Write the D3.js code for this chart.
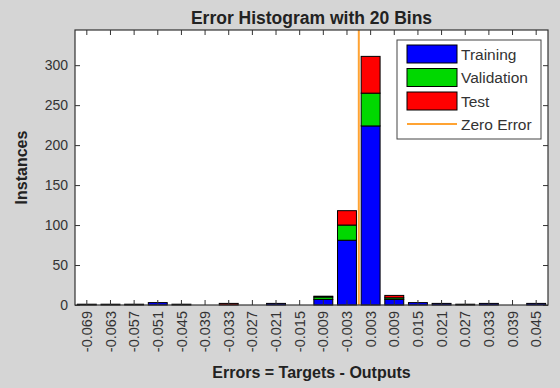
<!DOCTYPE html>
<html>
<head>
<meta charset="utf-8">
<script src="https://cdn.jsdelivr.net/npm/d3@7"></script>
<style>
    body { margin: 0; background: #d5d5d5; }
    svg { display: block; font-family: "Liberation Sans", Arial, sans-serif; }
</style>
</head>
<body>
<div id="hist"></div>
<script>
// bin centres (tick labels) and counts per data split
var binLabels = ["-0.069", "-0.063", "-0.057", "-0.051", "-0.045", "-0.039", "-0.033", "-0.027", "-0.021", "-0.015",
                 "-0.009", "-0.003", "0.003", "0.009", "0.015", "0.021", "0.027", "0.033", "0.039", "0.045"];
var training   = [1, 1, 1, 3, 1, 0, 0, 0, 2, 0, 7, 81, 224, 7, 3, 2, 1, 2, 0, 2];
var validation = [0, 0, 0, 0, 0, 0, 0, 0, 0, 0, 3, 19, 41, 2, 0, 0, 0, 0, 0, 0];
var test       = [0, 0, 0, 0, 0, 0, 2, 0, 0, 0, 1, 18, 46, 3, 0, 0, 0, 0, 0, 0];
var yTicks = [0, 50, 100, 150, 200, 250, 300];
var seriesNames = ["Training", "Validation", "Test"];
var zeroError = 0;

function init() {
    var W = 560, H = 388;
    var margin = {top: 30, right: 12, bottom: 83, left: 75};
    var w = W - margin.left - margin.right;
    var h = H - margin.top - margin.bottom;

    var dataset = binLabels.map(function(b, i) {
        return {bin: b, Training: training[i], Validation: validation[i], Test: test[i]};
    });

    var svg = d3.select("#hist").append("svg")
        .attr("width", W)
        .attr("height", H);

    var g = svg.append("g")
        .attr("transform", "translate(" + margin.left + "," + margin.top + ")");

    g.append("rect")
        .attr("width", w)
        .attr("height", h)
        .attr("fill", "#fff");

    var color = d3.scaleOrdinal()
        .domain(seriesNames)
        .range(["#0000ff", "#00d800", "#ff0000"]);

    var xScale = d3.scaleBand()
        .domain(binLabels)
        .range([0, w])
        .paddingInner(0.2)
        .paddingOuter(0.1);

    // continuous scale for the zero error line
    var step = 0.006;
    var xVal = d3.scaleLinear()
        .domain([+binLabels[0] - step / 2, +binLabels[binLabels.length - 1] + step / 2])
        .range([0, w]);

    var yScale = d3.scaleLinear()
        .domain([0, 344])
        .range([h, 0]);

    var series = d3.stack().keys(seriesNames)(dataset);

    g.selectAll("g.series")
        .data(series)
        .enter().append("g")
        .attr("class", "series")
        .attr("fill", function(d) { return color(d.key); })
        .selectAll("rect")
        .data(function(d) { return d.filter(function(s) { return s[1] - s[0] > 0; }); })
        .enter().append("rect")
        .attr("x", function(d) { return xScale(d.data.bin); })
        .attr("y", function(d) { return yScale(d[1]); })
        .attr("width", xScale.bandwidth())
        .attr("height", function(d) { return yScale(d[0]) - yScale(d[1]); })
        .attr("stroke", "#000")
        .attr("stroke-width", 1);

    // zero error line
    g.append("line")
        .attr("x1", xVal(zeroError))
        .attr("x2", xVal(zeroError))
        .attr("y1", 0)
        .attr("y2", h)
        .attr("stroke", "#ffa333")
        .attr("stroke-width", 2);

    // axes, ticks pointing inward like matlab
    var tickLen = 5;
    var xAxis = g.append("g")
        .attr("transform", "translate(0," + h + ")")
        .call(d3.axisBottom(xScale).tickSizeInner(-tickLen).tickSizeOuter(0).tickPadding(6));
    xAxis.selectAll("text")
        .attr("transform", "rotate(-90)")
        .attr("x", -6)
        .attr("y", 0)
        .attr("dy", "0.35em")
        .style("text-anchor", "end")
        .style("font-size", "14.5px")
        .style("fill", "#333");

    g.append("g")
        .call(d3.axisTop(xScale).tickSizeInner(-tickLen).tickSizeOuter(0).tickFormat(""));

    var yAxis = g.append("g")
        .call(d3.axisLeft(yScale).tickValues(yTicks).tickSizeInner(-tickLen).tickSizeOuter(0).tickPadding(7));
    yAxis.selectAll("text")
        .style("font-size", "14px")
        .style("fill", "#333");

    g.append("g")
        .attr("transform", "translate(" + w + ",0)")
        .call(d3.axisRight(yScale).tickValues(yTicks).tickSizeInner(-tickLen).tickSizeOuter(0).tickFormat(""));

    g.selectAll(".domain").remove();
    g.selectAll(".tick line").attr("stroke", "#333");

    g.append("rect")
        .attr("width", w)
        .attr("height", h)
        .attr("fill", "none")
        .attr("stroke", "#333")
        .attr("stroke-width", 1.2);

    // legend
    var lg = g.append("g")
        .attr("transform", "translate(" + (w - 151) + ",10)");
    lg.append("rect")
        .attr("width", 144)
        .attr("height", 99)
        .attr("fill", "#fff")
        .attr("stroke", "#444");
    seriesNames.forEach(function(name, i) {
        var yy = 5 + i * 23.5;
        lg.append("rect")
            .attr("x", 10)
            .attr("y", yy)
            .attr("width", 50)
            .attr("height", 18)
            .attr("fill", color(name))
            .attr("stroke", "#000");
        lg.append("text")
            .attr("x", 64)
            .attr("y", yy + 14.5)
            .style("font-size", "15.5px")
            .style("fill", "#333")
            .text(name);
    });
    lg.append("line")
        .attr("x1", 10).attr("x2", 60)
        .attr("y1", 84).attr("y2", 84)
        .attr("stroke", "#ffa333")
        .attr("stroke-width", 2);
    lg.append("text")
        .attr("x", 64)
        .attr("y", 89.5)
        .style("font-size", "15.5px")
        .style("fill", "#333")
        .text("Zero Error");

    // titles
    svg.append("text")
        .attr("x", margin.left + w / 2)
        .attr("y", 24)
        .attr("text-anchor", "middle")
        .style("font-size", "17.5px")
        .style("font-weight", "bold")
        .style("fill", "#222")
        .text("Error Histogram with 20 Bins");

    svg.append("text")
        .attr("x", margin.left + w / 2)
        .attr("y", 378)
        .attr("text-anchor", "middle")
        .style("font-size", "16px")
        .style("font-weight", "bold")
        .style("fill", "#222")
        .text("Errors = Targets - Outputs");

    svg.append("text")
        .attr("transform", "translate(27," + (margin.top + h / 2) + ") rotate(-90)")
        .attr("text-anchor", "middle")
        .style("font-size", "16px")
        .style("font-weight", "bold")
        .style("fill", "#222")
        .text("Instances");
}

window.onload = init;
</script>
</body>
</html>
